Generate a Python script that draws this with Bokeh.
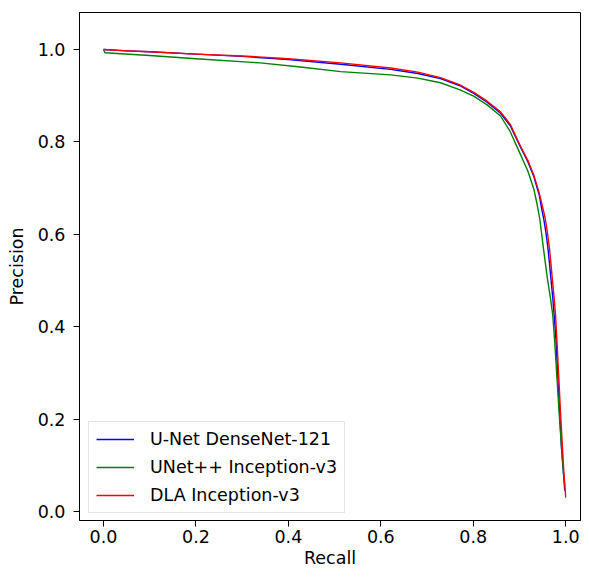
from bokeh.plotting import figure
from bokeh.models import Range1d, FixedTicker, Legend, LegendItem
from bokeh.embed import file_html
from bokeh.resources import INLINE

# ---- data ----
unet_recall = [0.0, 0.05, 0.1, 0.2, 0.3, 0.4, 0.513, 0.621, 0.68, 0.729, 0.77, 0.801, 0.83, 0.859,
               0.88, 0.902, 0.918, 0.931, 0.943, 0.948, 0.953, 0.958, 0.962, 0.965, 0.968, 0.972,
               0.975, 0.979, 0.983, 0.987, 0.991, 0.995, 0.998]
unet_precision = [1.0, 0.997, 0.995, 0.990, 0.985, 0.978, 0.968, 0.957, 0.948, 0.937, 0.922, 0.905, 0.886, 0.862,
                  0.835, 0.789, 0.757, 0.725, 0.684, 0.655, 0.630, 0.598, 0.566, 0.535, 0.504, 0.462,
                  0.425, 0.370, 0.290, 0.210, 0.137, 0.085, 0.045]

unetpp_recall = [0.0, 0.003, 0.1, 0.2, 0.339, 0.426, 0.513, 0.621, 0.68, 0.729, 0.77, 0.801, 0.83, 0.859,
                 0.88, 0.902, 0.918, 0.931, 0.938, 0.944, 0.948, 0.952, 0.957, 0.961, 0.967, 0.972,
                 0.976, 0.981, 0.986, 0.991, 0.995, 0.998]
unetpp_precision = [1.0, 0.993, 0.987, 0.980, 0.971, 0.962, 0.952, 0.945, 0.938, 0.928, 0.913, 0.899, 0.880, 0.856,
                    0.822, 0.773, 0.737, 0.698, 0.665, 0.633, 0.600, 0.568, 0.530, 0.500, 0.462, 0.425,
                    0.370, 0.290, 0.210, 0.137, 0.085, 0.055]

dla_recall = [0.0, 0.05, 0.1, 0.2, 0.3, 0.4, 0.513, 0.621, 0.68, 0.729, 0.77, 0.801, 0.83, 0.859,
              0.88, 0.902, 0.918, 0.931, 0.943, 0.951, 0.956, 0.961, 0.965, 0.968, 0.971, 0.975,
              0.978, 0.981, 0.985, 0.989, 0.993, 0.996, 1.0]
dla_precision = [1.0, 0.997, 0.995, 0.990, 0.986, 0.980, 0.971, 0.960, 0.951, 0.939, 0.924, 0.907, 0.888, 0.865,
                 0.838, 0.791, 0.760, 0.728, 0.688, 0.655, 0.633, 0.600, 0.568, 0.537, 0.504, 0.462,
                 0.425, 0.370, 0.290, 0.210, 0.137, 0.085, 0.030]

series_names = ["U-Net DenseNet-121", "UNet++ Inception-v3", "DLA Inception-v3"]
series_colors = ["blue", "green", "red"]

tick_values = [0.0, 0.2, 0.4, 0.6, 0.8, 1.0]
tick_labels = ["0.0", "0.2", "0.4", "0.6", "0.8", "1.0"]

FONT = "DejaVu Sans"
FS = "17.5px"

p = figure(width=581, height=570,
           x_range=Range1d(-0.052, 1.032), y_range=Range1d(-0.0195, 1.080),
           output_backend="svg", toolbar_location=None,
           min_border_left=79, min_border_right=1, min_border_top=12, min_border_bottom=50)

p.xgrid.visible = False
p.ygrid.visible = False
p.outline_line_color = "black"
p.outline_line_width = 1
p.outline_line_alpha = 1
p.background_fill_color = "white"
p.border_fill_color = "white"

for ax in (p.xaxis[0], p.yaxis[0]):
    ax.ticker = FixedTicker(ticks=tick_values)
    ax.major_label_overrides = {v: s for v, s in zip(tick_values, tick_labels)}
    ax.axis_line_color = "black"
    ax.axis_line_width = 1
    ax.major_tick_line_color = "black"
    ax.major_tick_line_width = 1
    ax.major_tick_out = 6
    ax.major_tick_in = 0
    ax.minor_tick_out = 0
    ax.minor_tick_in = 0
    ax.major_label_text_font = FONT
    ax.major_label_text_font_size = FS
    ax.major_label_text_color = "black"
    ax.axis_label_text_font = FONT
    ax.axis_label_text_font_size = FS
    ax.axis_label_text_font_style = "normal"
    ax.axis_label_text_color = "black"

p.xaxis[0].axis_label = "Recall"
p.yaxis[0].axis_label = "Precision"
p.xaxis[0].major_label_standoff = 3
p.xaxis[0].axis_label_standoff = 2
p.yaxis[0].major_label_standoff = 8
p.yaxis[0].axis_label_standoff = 8

data = [(unet_recall, unet_precision), (unetpp_recall, unetpp_precision), (dla_recall, dla_precision)]
items = []
for (xs, ys), name, col in zip(data, series_names, series_colors):
    r = p.line(xs, ys, line_color=col, line_width=1.4, line_join="round")
    items.append(LegendItem(label=name, renderers=[r]))

legend = Legend(items=items, location=(9, 7))
legend.label_text_font = FONT
legend.label_text_font_size = FS
legend.label_text_color = "black"
legend.glyph_width = 38
legend.glyph_height = 20
legend.label_height = 20
legend.label_standoff = 16
legend.spacing = 8
legend.padding = 7
legend.margin = 0
legend.border_line_color = "#cccccc"
legend.border_line_width = 1
legend.background_fill_color = "white"
legend.background_fill_alpha = 0.8
p.add_layout(legend, "center")

open("out.html", "w").write(file_html(p, INLINE))
